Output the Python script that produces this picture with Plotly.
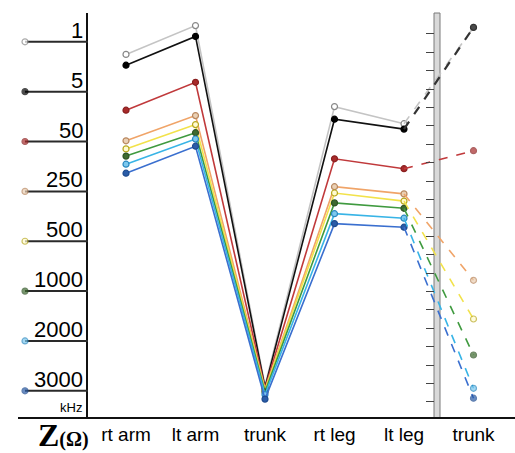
import plotly.graph_objects as go

# ---- data ----
categories = ["rt arm", "lt arm", "trunk", "rt leg", "lt leg", "trunk"]
cat_pos = [0, 1, 2, 3, 4, 5]
freqs = ["1", "5", "50", "250", "500", "1000", "2000", "3000"]
z_1 = [404, 436, 36, 346, 327, 434]
z_5 = [392, 424, 34, 332, 321, 434]
z_50 = [342, 373, 33, 288, 277, 297]
z_250 = [308, 336, 32, 257, 249, 153]
z_500 = [299, 326, 31, 250, 241, 110]
z_1000 = [291, 317, 29, 239, 233, 70]
z_2000 = [282, 310, 26, 227, 222, 33]
z_3000 = [272, 302, 21, 216, 212, 22]
series = [z_1, z_5, z_50, z_250, z_500, z_1000, z_2000, z_3000]
trunk_scale_ticks = [17.8 + 20.45 * k for k in range(21)]

# ---- styles ----
line_colors = ["#c4c4c4", "#111111", "#c0393b", "#f0a468", "#f2e24a", "#3f9a3f", "#38b4e6", "#3a6fcf"]
marker_fill = ["#ffffff", "#000000", "#a82a2a", "#ead0b4", "#fffbd0", "#3e6a30", "#7cc8ee", "#2a5ca8"]
marker_edge = ["#888888", "#000000", "#8a2020", "#b98860", "#b8a820", "#2f5424", "#2a88c0", "#1f4c90"]

W, H = 515, 453
L_AX = 88          # px of left axis
YMAX = 450
leg_top = 418      # legend row 0 value (y units)
leg_step = 55.4

fig = go.Figure()

for i, vals in enumerate(series):
    # solid part
    fig.add_trace(go.Scatter(
        x=cat_pos[:5], y=vals[:5], mode="lines+markers",
        line=dict(color=line_colors[i], width=1.6),
        marker=dict(size=6, color=marker_fill[i], line=dict(color=marker_edge[i], width=1.2)),
        showlegend=False, hoverinfo="skip"))
for i, vals in enumerate(series):
    # dashed part to separate trunk scale (y2 shares the same range)
    fig.add_trace(go.Scatter(
        x=cat_pos[4:], y=vals[4:], yaxis="y2", mode="lines+markers",
        line=dict(color=line_colors[i] if i != 1 else "#333333", width=2.2 if i == 1 else 1.6, dash="dash"),
        marker=dict(size=[0, 6], color=marker_fill[i], line=dict(color=marker_edge[i], width=1.2)),
        showlegend=False, hoverinfo="skip"))

# left legend scale
annotations = []
for i, f in enumerate(freqs):
    yv = leg_top - leg_step * i
    fig.add_trace(go.Scatter(
        x=[25, L_AX], y=[yv, yv], xaxis="x2", yaxis="y", mode="lines+markers",
        line=dict(color="#2a2a2a", width=2),
        marker=dict(size=[6, 0], color=marker_fill[i], line=dict(color=marker_edge[i], width=1.2)),
        showlegend=False, hoverinfo="skip"))
    annotations.append(dict(x=85, y=yv, xref="x2", yref="y", text=f, showarrow=False,
                            xanchor="right", yanchor="bottom", yshift=-3,
                            font=dict(family="Liberation Sans, Arial", size=22, color="#000")))
annotations.append(dict(x=84, y=0, xref="x2", yref="y", text="kHz", showarrow=False,
                        xanchor="right", yanchor="bottom", yshift=1,
                        font=dict(family="Liberation Sans, Arial", size=13, color="#000")))
annotations.append(dict(x=36 / W, y=-0.043, xref="paper", yref="paper",
                        text="<b><span style='font-size:32px'>Z</span>(Ω)</b>",
                        showarrow=False, xanchor="left", yanchor="middle",
                        font=dict(family="Liberation Serif, Times New Roman", size=20, color="#000")))

# separator bar
bar_x = 437
shapes = [
    dict(type="rect", xref="paper", yref="paper", x0=(bar_x - 3) / W, x1=(bar_x + 3) / W,
         y0=0, y1=1, fillcolor="#d9d9d9", line=dict(color="#7a7a7a", width=1), layer="below"),
    dict(type="line", xref="paper", yref="paper", x0=18 / W, x1=1, y0=0, y1=0,
         line=dict(color="#111", width=2)),
]

fig.update_layout(
    width=W, height=H,
    margin=dict(l=0, r=0, t=13, b=35),
    paper_bgcolor="white", plot_bgcolor="white",
    annotations=annotations, shapes=shapes,
    xaxis=dict(domain=[L_AX / W, 1], range=[-38 / 69.5, (515 - 126) / 69.5],
               tickvals=cat_pos, ticktext=categories, showgrid=False, zeroline=False,
               showline=False, ticks="", ticklabelstandoff=3,
               tickfont=dict(family="Liberation Sans, Arial", size=19, color="#000")),
    xaxis2=dict(domain=[0, L_AX / W], range=[0, L_AX], visible=False, anchor="y"),
    yaxis=dict(range=[0, YMAX], showgrid=False, zeroline=False, showticklabels=False,
               showline=True, linecolor="#111", linewidth=2, ticks=""),
    yaxis2=dict(range=[0, YMAX], overlaying="y", anchor="free", position=(bar_x - 3) / W,
                side="right", ticks="inside", ticklen=8, tickwidth=1.3, tickcolor="#444",
                tickmode="array", tickvals=trunk_scale_ticks, showticklabels=False, showgrid=False,
                zeroline=False, showline=False),
)

fig.write_html("out.html", config={"displayModeBar": False},
               post_script="document.body.style.margin='0';")
